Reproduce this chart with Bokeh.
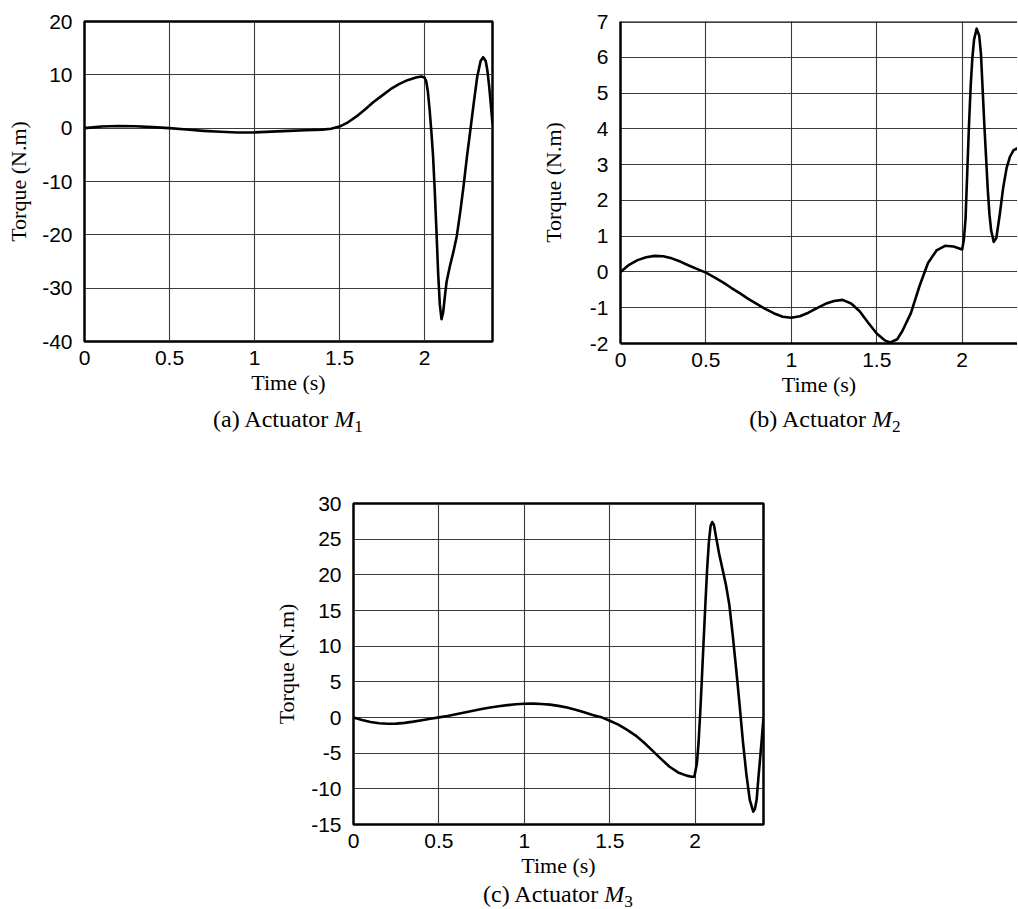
from bokeh.plotting import figure
from bokeh.layouts import column, row
from bokeh.models import Range1d, FixedTicker, Span, Div, Spacer
from bokeh.embed import file_html
from bokeh.resources import INLINE

# ---------------- data ----------------
time_a = [0, 0.05, 0.1, 0.2, 0.3, 0.4, 0.5, 0.6, 0.7, 0.8, 0.9, 1.0, 1.1, 1.2, 1.3, 1.4, 1.45,
          1.5, 1.55, 1.6, 1.65, 1.7, 1.75, 1.8, 1.85, 1.9, 1.95, 1.98, 2.0, 2.01, 2.02, 2.03,
          2.04, 2.05, 2.06, 2.07, 2.08, 2.09, 2.1, 2.11, 2.12, 2.13, 2.15, 2.17, 2.19, 2.21,
          2.23, 2.25, 2.27, 2.29, 2.31, 2.33, 2.345, 2.36, 2.37, 2.38, 2.39, 2.4]
torque_a = [0, 0.15, 0.3, 0.4, 0.35, 0.2, 0.0, -0.25, -0.5, -0.68, -0.8, -0.78, -0.65, -0.5,
            -0.38, -0.28, -0.1, 0.3, 1.1, 2.2, 3.5, 4.9, 6.1, 7.3, 8.25, 9.0, 9.5, 9.7, 9.5,
            8.8, 6.8, 3.5, -0.5, -5.0, -11.5, -19.0, -27.0, -33.0, -35.8, -34.5, -31.5, -28.8,
            -25.8, -23.2, -20.2, -15.8, -10.8, -5.3, -0.3, 4.8, 9.6, 12.6, 13.3, 12.6, 10.8,
            8.0, 4.5, 0.8]

time_b = [0, 0.05, 0.1, 0.15, 0.2, 0.25, 0.3, 0.35, 0.4, 0.45, 0.5, 0.55, 0.6, 0.65, 0.7, 0.75,
          0.8, 0.85, 0.9, 0.95, 1.0, 1.05, 1.1, 1.15, 1.2, 1.25, 1.3, 1.35, 1.4, 1.45, 1.5, 1.55,
          1.58, 1.62, 1.65, 1.7, 1.75, 1.8, 1.85, 1.9, 1.95, 2.0, 2.01, 2.02, 2.03, 2.04, 2.05,
          2.06, 2.07, 2.085, 2.1, 2.11, 2.12, 2.13, 2.14, 2.15, 2.16, 2.17, 2.185, 2.2, 2.22,
          2.24, 2.26, 2.28, 2.3, 2.32, 2.34]
torque_b = [0, 0.2, 0.33, 0.41, 0.45, 0.44, 0.38, 0.29, 0.18, 0.08, -0.02, -0.15, -0.29, -0.45,
            -0.6, -0.76, -0.9, -1.04, -1.16, -1.25, -1.28, -1.24, -1.14, -1.01, -0.89, -0.81,
            -0.78, -0.88, -1.1, -1.42, -1.72, -1.92, -1.97, -1.88, -1.65, -1.15, -0.4, 0.25,
            0.6, 0.73, 0.71, 0.63, 0.9, 1.5, 2.8, 4.1, 5.2, 6.0, 6.5, 6.8, 6.6, 6.1, 5.1, 4.1,
            3.2, 2.3, 1.6, 1.15, 0.84, 0.95, 1.6, 2.35, 2.9, 3.22, 3.4, 3.45, 3.42]

time_c = [0, 0.05, 0.1, 0.15, 0.2, 0.25, 0.3, 0.35, 0.4, 0.45, 0.5, 0.55, 0.6, 0.65, 0.7, 0.75,
          0.8, 0.85, 0.9, 0.95, 1.0, 1.05, 1.1, 1.15, 1.2, 1.25, 1.3, 1.35, 1.4, 1.45, 1.5, 1.55,
          1.6, 1.65, 1.7, 1.75, 1.8, 1.85, 1.9, 1.95, 1.98, 1.995, 2.01, 2.02, 2.03, 2.04, 2.05,
          2.06, 2.07, 2.08, 2.09, 2.1, 2.11, 2.12, 2.14, 2.16, 2.18, 2.2, 2.22, 2.24, 2.26, 2.28,
          2.3, 2.32, 2.34, 2.35, 2.36, 2.37, 2.38, 2.39, 2.4]
torque_c = [0, -0.35, -0.62, -0.8, -0.88, -0.86, -0.75, -0.58, -0.38, -0.18, 0.02, 0.22, 0.45,
            0.7, 0.95, 1.18, 1.4, 1.58, 1.73, 1.85, 1.92, 1.94, 1.9, 1.8, 1.63, 1.4, 1.1, 0.72,
            0.35, 0.05, -0.45, -1.0, -1.7, -2.5, -3.5, -4.65, -5.8, -6.9, -7.7, -8.15, -8.3,
            -8.3, -6.5, -3.5, 0.8, 5.8, 11.0, 16.0, 20.8, 24.5, 26.8, 27.4, 27.0, 25.6, 23.0,
            20.8, 18.6, 15.8, 11.5, 6.8, 1.8, -3.5, -8.0, -11.6, -13.2, -12.8, -11.5, -8.5,
            -5.8, -3.0, 0.0]

x_ticks = [0, 0.5, 1, 1.5, 2]
x_tick_labels = ["0", "0.5", "1", "1.5", "2"]
y_ticks_a = [-40, -30, -20, -10, 0, 10, 20]
y_tick_labels_a = ["-40", "-30", "-20", "-10", "0", "10", "20"]
y_ticks_b = [-2, -1, 0, 1, 2, 3, 4, 5, 6, 7]
y_tick_labels_b = ["-2", "-1", "0", "1", "2", "3", "4", "5", "6", "7"]
y_ticks_c = [-15, -10, -5, 0, 5, 10, 15, 20, 25, 30]
y_tick_labels_c = ["-15", "-10", "-5", "0", "5", "10", "15", "20", "25", "30"]

x_label = "Time (s)"
y_label = "Torque (N.m)"
SUB = '<span style="font-size:0.72em;position:relative;top:0.28em">{}</span>'
caption_a = '(a) Actuator <i>M</i>' + SUB.format("1")
caption_b = '(b) Actuator <i>M</i>' + SUB.format("2")
caption_c = '(c) Actuator <i>M</i>' + SUB.format("3")

TICK_FONT = "Liberation Sans"
LABEL_FONT = "Liberation Serif"
GRID_COLOR = "#3a3a3a"


def make_fig(t, v, x_end, y_rng, yticks, ylabels, frame_w, frame_h,
             b_left, b_right, b_top, b_bottom, ylab_standoff, outline=True):
    p = figure(frame_width=frame_w, frame_height=frame_h,
               x_range=Range1d(0, x_end), y_range=Range1d(*y_rng),
               output_backend="svg", toolbar_location=None, title=None,
               min_border_left=b_left, min_border_right=b_right,
               min_border_top=b_top, min_border_bottom=b_bottom,
               background_fill_color="white", border_fill_color="white")
    p.line(t, v, line_width=2.6, line_color="black", line_join="round")

    p.xaxis.ticker = FixedTicker(ticks=x_ticks, minor_ticks=[])
    p.xaxis.major_label_overrides = {k: s for k, s in zip(x_ticks, x_tick_labels)}
    p.yaxis.ticker = FixedTicker(ticks=yticks, minor_ticks=[])
    p.yaxis.major_label_overrides = {k: s for k, s in zip(yticks, ylabels)}

    for ax in (p.xaxis, p.yaxis):
        ax.major_tick_line_color = None
        ax.minor_tick_line_color = None
        ax.major_label_text_font = TICK_FONT
        ax.major_label_text_font_size = "21px"
        ax.major_label_text_color = "black"
        ax.axis_label_text_font = LABEL_FONT
        ax.axis_label_text_font_size = "22px"
        ax.axis_label_text_font_style = "normal"
        ax.axis_label_text_color = "black"
    p.xaxis.major_label_standoff = 3
    p.yaxis.major_label_standoff = 6
    p.xaxis.axis_label = x_label
    p.yaxis.axis_label = y_label
    p.xaxis.axis_label_standoff = 2
    p.yaxis.axis_label_standoff = ylab_standoff

    p.xgrid.grid_line_color = GRID_COLOR
    p.ygrid.grid_line_color = GRID_COLOR
    p.xgrid.grid_line_width = 1.1
    p.ygrid.grid_line_width = 1.1

    if outline:
        p.outline_line_color = "black"
        p.outline_line_width = 2.5
        p.outline_line_alpha = 1.0
        p.xaxis.axis_line_color = None
        p.yaxis.axis_line_color = None
    else:
        p.outline_line_color = None
        for ax in (p.xaxis, p.yaxis):
            ax.axis_line_color = "black"
            ax.axis_line_width = 2.5
        p.add_layout(Span(location=y_rng[1], dimension="width",
                          line_color="black", line_width=2.5))
    return p


fig_a = make_fig(time_a, torque_a, 2.4, (-40, 20), y_ticks_a, y_tick_labels_a,
                 408, 320, 84, 38, 21, 56, 8)
fig_b = make_fig(time_b, torque_b, 2.324, (-2, 7), y_ticks_b, y_tick_labels_b,
                 397, 322, 90, 0, 21, 54, 21, outline=False)
fig_c = make_fig(time_c, torque_c, 2.4, (-15, 30), y_ticks_c, y_tick_labels_c,
                 410, 321, 90, 20, 13, 53, 9)


def caption(html, h, lh):
    return Div(text=html, width=200, height=h, margin=0,
               styles={"font-family": LABEL_FONT, "font-size": "24px",
                       "text-align": "center", "line-height": lh,
                       "color": "black", "white-space": "nowrap"})


top_row = row(fig_a, fig_b, spacing=0)
cap_row = row(Spacer(width=188, height=40, margin=0), caption(caption_a, 40, "40px"),
              Spacer(width=337, height=40, margin=0), caption(caption_b, 40, "40px"),
              spacing=0)
gap = Spacer(width=10, height=51, margin=0)
bottom_row = row(Spacer(width=263, height=10, margin=0), fig_c, spacing=0)
cap_c_row = row(Spacer(width=458, height=34, margin=0), caption(caption_c, 34, "28px"),
                spacing=0)

layout = column(top_row, cap_row, gap, bottom_row, cap_c_row, spacing=0)

open("out.html", "w").write(file_html(layout, INLINE))
